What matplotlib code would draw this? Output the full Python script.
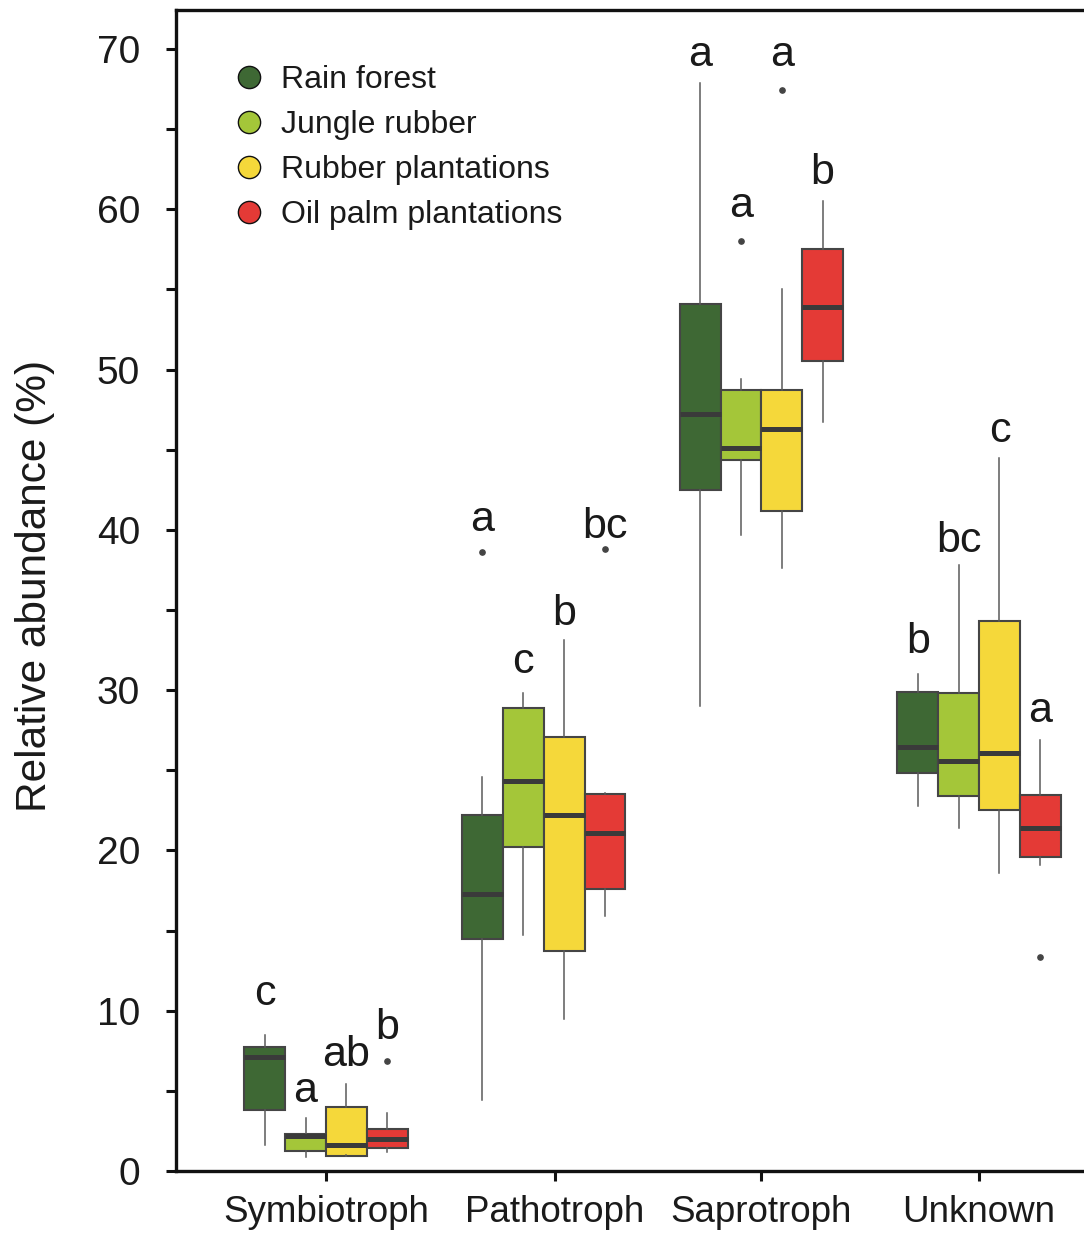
import matplotlib
matplotlib.use("Agg")
import matplotlib.pyplot as plt
from matplotlib.lines import Line2D

plt.rcParams['font.family'] = ['Liberation Sans', 'DejaVu Sans']

# Functional guilds (x groups) and land-use systems (boxes within each group)
guilds = ["Symbiotroph", "Pathotroph", "Saprotroph", "Unknown"]
land_uses = ["Rain forest", "Jungle rubber", "Rubber plantations", "Oil palm plantations"]
colors = ["#3E6834", "#A4C639", "#F5D83A", "#E43A36"]

# Box statistics, indexed [guild][land use] (relative abundance, %)
whisker_low = [[1.6, 0.9, 1.0, 1.2],
               [4.4, 14.7, 9.5, 15.9],
               [29.0, 39.7, 37.6, 46.7],
               [22.8, 21.4, 18.6, 19.1]]
quartile1 = [[3.8, 1.25, 0.95, 1.43],
             [14.5, 20.2, 13.7, 17.6],
             [42.5, 44.35, 41.2, 50.55],
             [24.8, 23.4, 22.5, 19.6]]
median = [[7.1, 2.18, 1.6, 2.0],
          [17.3, 24.3, 22.2, 21.1],
          [47.2, 45.1, 46.3, 53.9],
          [26.45, 25.6, 26.1, 21.37]]
quartile3 = [[7.74, 2.3, 4.0, 2.62],
             [22.2, 28.9, 27.1, 23.5],
             [54.1, 48.74, 48.7, 57.5],
             [29.86, 29.8, 34.3, 23.45]]
whisker_high = [[8.5, 3.3, 5.4, 3.6],
                [24.6, 29.8, 33.1, 23.6],
                [67.9, 49.4, 55.0, 60.5],
                [31.0, 37.8, 44.5, 26.9]]
outliers = [[[], [], [], [6.86]],
            [[38.6], [], [], [38.8]],
            [[], [58.0], [67.45], []],
            [[], [], [], [13.36]]]

# Significance letters and their baseline heights
letters = [["c", "a", "ab", "b"],
           ["a", "c", "b", "bc"],
           ["a", "a", "a", "b"],
           ["b", "bc", "c", "a"]]
letter_y = [[10.36, 4.3, 6.55, 8.23],
            [39.9, 31.07, 34.06, 39.5],
            [68.93, 59.5, 68.93, 61.6],
            [32.29, 38.63, 45.45, 28.02]]

yticks = [0, 10, 20, 30, 40, 50, 60, 70]

fig = plt.figure(figsize=(10.84, 12.34), dpi=100)
ax = fig.add_axes([176 / 1084, 63 / 1234, 908 / 1084, 1161 / 1234])

box_w = 0.1875
text_color = "#1a1a1a"

for g in range(len(guilds)):
    for k in range(len(land_uses)):
        pos = g + (k - 1.5) * box_w
        stats = [dict(whislo=whisker_low[g][k], q1=quartile1[g][k], med=median[g][k],
                      q3=quartile3[g][k], whishi=whisker_high[g][k],
                      fliers=outliers[g][k])]
        ax.bxp(stats, positions=[pos], widths=box_w, patch_artist=True,
               showcaps=False, manage_ticks=False,
               boxprops=dict(facecolor=colors[k], edgecolor="#454545", linewidth=1.5),
               medianprops=dict(color="#3a3a3a", linewidth=3.6, solid_capstyle="butt"),
               whiskerprops=dict(color="#5a5a5a", linewidth=1.1),
               flierprops=dict(marker="o", markersize=3.8, markerfacecolor="#444444",
                               markeredgecolor="#444444"))
        ax.text(pos, letter_y[g][k], letters[g][k], ha="center", va="baseline",
                fontsize=31, color=text_color)

ax.set_xlim(-0.689, 3.482)
ax.set_ylim(0, 72.43)

ax.set_xticks([0, 1.05, 2.0, 3.0])
ax.set_xticklabels(guilds)
ax.set_yticks(yticks)
ax.set_yticks([5, 15, 25, 35, 45, 55, 65], minor=True)

ax.tick_params(axis="both", which="both", direction="out", length=7, width=2.2,
               colors="#111111")
ax.tick_params(axis="y", which="major", labelsize=28, pad=19, labelcolor=text_color)
ax.tick_params(axis="x", which="major", labelsize=26.5, pad=10, labelcolor=text_color)

for side in ("left", "bottom", "top"):
    ax.spines[side].set_linewidth(2.4)
    ax.spines[side].set_color("#111111")
ax.spines["right"].set_visible(False)

ax.set_ylabel("Relative abundance (%)", fontsize=30.5, color=text_color, va="center")
ax.yaxis.set_label_coords(-0.1553, 0.504)

handles = [Line2D([], [], linestyle="none", marker="o", markersize=16,
                  markerfacecolor=c, markeredgecolor="#111111", markeredgewidth=1.0)
           for c in colors]
ax.legend(handles, land_uses, loc="upper left", bbox_to_anchor=(0.0628, 0.9528),
          frameon=False, fontsize=23, handlelength=1.0, handletextpad=0.5,
          borderpad=0, borderaxespad=0, labelspacing=0.47, labelcolor=text_color)

fig.savefig("out.png", dpi=100, facecolor="white")
